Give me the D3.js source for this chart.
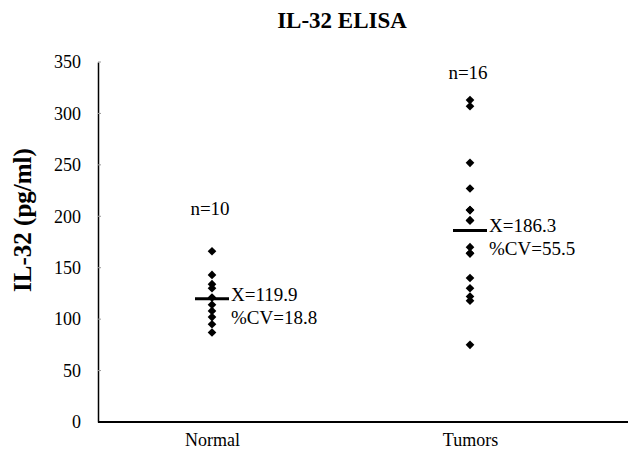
<!DOCTYPE html>
<html>
<head>
<meta charset="utf-8">
<script src="https://cdn.jsdelivr.net/npm/d3@7"></script>
<style>
  body { margin: 0; background: #fff; }
  text { font-family: "Liberation Serif", "Times New Roman", serif; fill: #000; }
</style>
</head>
<body>
<svg id="drawing_region"></svg>
<script>
// groups and their values (pg/ml)
const groups = ['Normal', 'Tumors'];
const normalValues = [166, 143, 134, 130, 121, 114, 108, 102, 95, 87];
const tumorValues = [313, 307, 252, 227, 206, 206, 196, 196, 170, 164, 164, 140, 130, 122, 118, 75];
const means = [119.9, 186.3];
const counts = ['n=10', 'n=16'];
const cvLabels = ['%CV=18.8', '%CV=55.5'];
const yTicks = [0, 50, 100, 150, 200, 250, 300, 350];

const config = {
    width: 630,
    height: 455,
    margin: {top: 62, right: 2, bottom: 33, left: 98}
};

const serif = '"Liberation Serif", "Times New Roman", serif';

const svg = d3.select('#drawing_region')
    .attr('width', config.width)
    .attr('height', config.height);

const innerW = config.width - config.margin.left - config.margin.right;
const innerH = config.height - config.margin.top - config.margin.bottom;

const chart = svg.append('g')
    .attr('transform', `translate(${config.margin.left}, ${config.margin.top})`);

const xscale = d3.scalePoint()
    .domain(groups)
    .range([114, 372]);

const yscale = d3.scaleLinear()
    .domain([0, 350])
    .range([innerH, 0]);

// y axis
const yaxis = d3.axisLeft(yscale)
    .tickValues(yTicks)
    .tickSize(0)
    .tickPadding(17);

const yg = chart.append('g')
    .call(yaxis)
    .attr('font-family', serif)
    .attr('font-size', 18);
yg.select('.domain').attr('stroke', '#000').attr('stroke-width', 1.5);

// small inner ticks
chart.append('g').selectAll('line')
    .data(yTicks)
    .enter()
    .append('line')
    .attr('x1', 0).attr('x2', 3)
    .attr('y1', d => yscale(d)).attr('y2', d => yscale(d))
    .attr('stroke', '#999')
    .attr('stroke-width', 1);

// x axis
const xaxis = d3.axisBottom(xscale)
    .tickSize(0)
    .tickPadding(11);

const xg = chart.append('g')
    .attr('transform', `translate(0, ${innerH})`)
    .call(xaxis)
    .attr('font-family', serif)
    .attr('font-size', 18);
xg.select('.domain')
    .attr('d', `M0,0H${innerW}`)
    .attr('stroke', '#000').attr('stroke-width', 2);

// points
const points = [];
normalValues.forEach(v => points.push({group: 'Normal', value: v}));
tumorValues.forEach(v => points.push({group: 'Tumors', value: v}));

const diamond = d3.symbol().type(d3.symbolDiamond2).size(48);

chart.selectAll('.pt')
    .data(points)
    .enter()
    .append('path')
    .attr('class', 'pt')
    .attr('d', diamond)
    .attr('transform', d => `translate(${xscale(d.group)}, ${yscale(d.value)})`)
    .attr('fill', '#000');

// mean bars
chart.selectAll('.mean')
    .data(groups)
    .enter()
    .append('line')
    .attr('class', 'mean')
    .attr('x1', d => xscale(d) - 17)
    .attr('x2', d => xscale(d) + 17)
    .attr('y1', (d, i) => yscale(means[i]))
    .attr('y2', (d, i) => yscale(means[i]))
    .attr('stroke', '#000')
    .attr('stroke-width', 3);

// mean / cv labels
chart.selectAll('.meanlabel')
    .data(groups)
    .enter()
    .append('text')
    .attr('x', d => xscale(d) + 19)
    .attr('y', (d, i) => yscale(means[i]) + 2)
    .attr('font-size', '19px')
    .text((d, i) => 'X=' + means[i]);

chart.selectAll('.cvlabel')
    .data(groups)
    .enter()
    .append('text')
    .attr('x', d => xscale(d) + 19)
    .attr('y', (d, i) => yscale(means[i]) + 25)
    .attr('font-size', '19px')
    .text((d, i) => cvLabels[i]);

// n labels above each group
const nLabelY = [201, 333];
chart.selectAll('.nlabel')
    .data(groups)
    .enter()
    .append('text')
    .attr('x', d => xscale(d) - 2)
    .attr('y', (d, i) => yscale(nLabelY[i]))
    .attr('text-anchor', 'middle')
    .attr('font-size', '19px')
    .text((d, i) => counts[i]);

// title
svg.append('text')
    .attr('x', 342)
    .attr('y', 28)
    .attr('text-anchor', 'middle')
    .attr('font-size', '23px')
    .attr('font-weight', 'bold')
    .text('IL-32 ELISA');

// y axis label
svg.append('text')
    .attr('transform', 'translate(31, 220) rotate(-90)')
    .attr('text-anchor', 'middle')
    .attr('font-size', '25px')
    .attr('font-weight', 'bold')
    .text('IL-32 (pg/ml)');
</script>
</body>
</html>
